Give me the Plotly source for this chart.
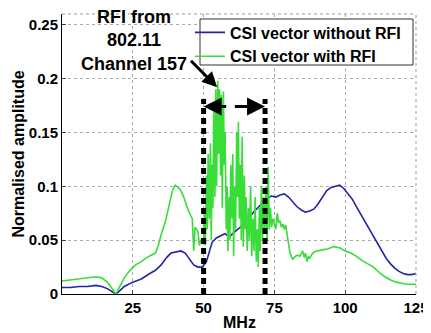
import plotly.graph_objects as go

# ---- data ----
blue_x = [0, 3, 6, 9, 12, 14, 16, 18, 19, 20, 22, 25, 28, 31, 33, 35, 37, 38.5, 40, 42, 43.5, 45, 46.5, 48, 49.5,
          51, 52, 53, 54.5, 56, 57.5, 59, 60.5, 62, 63.5, 65, 66.5, 68, 69.5, 71, 72.5, 74, 75.5, 77, 78.5, 80,
          81.5, 83, 84.5, 86, 87.5, 89, 90.5, 92, 93.5, 95, 96.5, 98, 99.5, 101, 102.5, 104, 105.5, 107, 108.5,
          110, 111.5, 113, 114.5, 116, 117.5, 119, 120.5, 122, 123.5, 125]
blue_y = [0.006, 0.006, 0.007, 0.007, 0.008, 0.007, 0.005, 0.002, 0.0, 0.002, 0.007, 0.011, 0.014, 0.019, 0.022,
          0.027, 0.034, 0.038, 0.039, 0.040, 0.038, 0.032, 0.027, 0.025, 0.025,
          0.030, 0.040, 0.048, 0.052, 0.054, 0.056, 0.053, 0.057, 0.060, 0.063, 0.068, 0.072, 0.077, 0.081, 0.085,
          0.089, 0.091, 0.090, 0.092, 0.093, 0.090, 0.085, 0.081, 0.078, 0.076, 0.077, 0.079, 0.084, 0.090, 0.096,
          0.099, 0.100, 0.101, 0.098, 0.093, 0.088, 0.081, 0.074, 0.067, 0.060, 0.053, 0.046, 0.039, 0.033, 0.028,
          0.024, 0.021, 0.019, 0.018, 0.018, 0.019]

green_x = [0, 3, 6, 9, 12, 14, 16, 18, 19, 20, 22, 24, 26, 28, 30, 31.5, 33, 34, 35, 36.5, 38, 39, 40, 41, 42, 43,
           44, 45, 46, 46.5, 47, 48, 48.5, 49, 50,
           50.3, 50.6, 51, 51.3, 51.6, 52, 52.4, 52.7, 53, 53.3, 53.6, 54, 54.3, 54.6, 55, 55.3, 55.6, 56, 56.3,
           56.6, 57, 57.3, 57.6, 58, 58.3, 58.6, 59, 59.3, 59.6, 60, 60.3, 60.6, 61, 61.3, 61.7, 62, 62.3, 62.6,
           63, 63.3, 63.6, 64, 64.4, 64.7, 65, 65.4, 65.8, 66.2, 66.6, 67, 67.4, 67.8, 68.2, 68.6, 69, 69.3, 69.7,
           70, 70.4, 70.8, 71.2, 71.6, 72, 72.4, 72.8, 73.2, 73.6, 74, 74.5, 75, 75.5, 76, 76.5, 77, 77.5, 78,
           78.5, 79, 79.5, 80, 80.5, 81, 81.5, 82, 83, 84, 85, 85.5, 86, 86.5, 87, 87.5, 88, 89, 90, 92, 94, 96,
           98, 100, 102, 104, 106, 108, 110, 112, 114, 116, 118, 120, 122, 125]
green_y = [0.012, 0.013, 0.014, 0.015, 0.016, 0.015, 0.011, 0.004, 0.0, 0.005, 0.015, 0.022, 0.027, 0.030, 0.034,
           0.036, 0.038, 0.045, 0.055, 0.067, 0.083, 0.096, 0.101, 0.099, 0.096, 0.090, 0.082, 0.075, 0.070, 0.040,
           0.062, 0.058, 0.045, 0.050, 0.052,
           0.080, 0.045, 0.110, 0.060, 0.130, 0.070, 0.140, 0.050, 0.120, 0.080, 0.170, 0.090, 0.190, 0.100, 0.198,
           0.130, 0.190, 0.110, 0.185, 0.080, 0.188, 0.120, 0.150, 0.060, 0.100, 0.040, 0.090, 0.050, 0.120, 0.070,
           0.130, 0.035, 0.100, 0.060, 0.150, 0.090, 0.160, 0.070, 0.120, 0.050, 0.146, 0.044, 0.110, 0.060, 0.090,
           0.040, 0.080, 0.050, 0.100, 0.035, 0.070, 0.040, 0.090, 0.030, 0.060, 0.025, 0.080, 0.040, 0.100, 0.050,
           0.090, 0.060, 0.100, 0.050, 0.118, 0.060, 0.080, 0.062, 0.070, 0.065, 0.060, 0.075, 0.066, 0.068, 0.062,
           0.065, 0.060, 0.064, 0.055, 0.045, 0.038, 0.035, 0.032, 0.034, 0.036, 0.035, 0.040, 0.034, 0.038, 0.030,
           0.035, 0.033, 0.036, 0.039, 0.040, 0.041, 0.042, 0.044, 0.043, 0.040, 0.038, 0.035, 0.031, 0.028, 0.025,
           0.020, 0.016, 0.013, 0.011, 0.010, 0.009, 0.009]

x_ticks = [25, 50, 75, 100, 125]
y_ticks = [0, 0.05, 0.1, 0.15, 0.2, 0.25]
y_labels = ["0", "0.05", "0.1", "0.15", "0.2", "0.25"]
rfi_band = [50, 71.7]
annotation_text = "RFI from<br>802.11<br>Channel 157"
x_title = "MHz"
y_title = "Normalised amplitude"

FONT = "Liberation Sans, Arial, sans-serif"
# page body has an 8px margin; the figure is offset by it
OFF = 8
W, H = 431 - OFF, 333 - OFF
L, T = 62 - OFF, 14 - OFF
R = W - (416 - OFF)
B = H - (294 - OFF)
PW, PH = W - L - R, H - T - B


def px(sx):  # screen x -> paper x
    return (sx - OFF - L) / PW


def py(sy):  # screen y -> paper y
    return (T + PH - (sy - OFF)) / PH


fig = go.Figure()
fig.add_trace(go.Scatter(x=blue_x, y=blue_y, mode="lines", name="CSI vector without RFI",
                         line=dict(color="#2424a8", width=1.6)))
fig.add_trace(go.Scatter(x=green_x, y=green_y, mode="lines", name="CSI vector with RFI",
                         line=dict(color="#38dd38", width=1.6)))

# dashed band limits
for xv in rfi_band:
    fig.add_shape(type="line", x0=xv, x1=xv, y0=0, y1=0.181, xref="x", yref="y",
                  line=dict(color="black", width=5, dash="6px,4px"))

# top / right dotted borders
fig.add_shape(type="line", xref="paper", yref="paper", x0=0, x1=1, y0=1, y1=1,
              line=dict(color="#999999", width=1, dash="dot"))
fig.add_shape(type="line", xref="paper", yref="paper", x0=1, x1=1, y0=0, y1=1,
              line=dict(color="#999999", width=1, dash="dot"))

# legend box
fig.add_shape(type="rect", xref="paper", yref="paper", x0=px(200), x1=px(413), y0=py(65), y1=py(19),
              fillcolor="white", line=dict(color="#333333", width=1), layer="above")

# band arrows
ymid = 0.174
fig.add_annotation(x=rfi_band[0], y=ymid, ax=58.5, ay=ymid, axref="x", ayref="y", xref="x", yref="y",
                   text="", showarrow=True, arrowhead=2, arrowsize=1.2, arrowwidth=3, arrowcolor="black")
fig.add_annotation(x=rfi_band[1], y=ymid, ax=60.5, ay=ymid, axref="x", ayref="y", xref="x", yref="y",
                   text="", showarrow=True, arrowhead=2, arrowsize=1.2, arrowwidth=3, arrowcolor="black")

# pointer arrow
fig.add_annotation(x=54.8, y=0.192, ax=45.0, ay=0.218, axref="x", ayref="y", xref="x", yref="y",
                   text="", showarrow=True, arrowhead=2, arrowsize=1, arrowwidth=3, arrowcolor="black")
# annotation text
fig.add_annotation(x=25.5, y=0.235, xref="x", yref="y", text=annotation_text, showarrow=False,
                   xanchor="center", yanchor="middle",
                   font=dict(family=FONT, size=18, color="black", weight="bold"), align="center")

# axis titles
fig.add_annotation(x=px(17.5), y=0.5, xref="paper", yref="paper", text=y_title, textangle=-90,
                   xanchor="center", yanchor="middle", showarrow=False,
                   font=dict(family=FONT, size=16, color="black", weight="bold"))
fig.add_annotation(x=0.5, y=py(322), xref="paper", yref="paper", text=x_title,
                   xanchor="center", yanchor="middle", showarrow=False,
                   font=dict(family=FONT, size=16, color="black", weight="bold"))

fig.update_layout(
    width=W, height=H,
    margin=dict(l=L, r=R, t=T, b=B),
    paper_bgcolor="white", plot_bgcolor="white",
    font=dict(family=FONT, size=15, color="black", weight="bold"),
    showlegend=True,
    legend=dict(x=px(190), y=py(15.5), xanchor="left", yanchor="top",
                bgcolor="rgba(0,0,0,0)", borderwidth=0, font=dict(size=16, weight="bold"),
                itemwidth=30, tracegroupgap=0),
    xaxis=dict(range=[0, 125], tickvals=x_ticks, showgrid=True, gridcolor="#aaaaaa", griddash="dot",
               showline=True, linecolor="black", linewidth=1, ticks="inside", ticklen=4, zeroline=False,
               automargin=False),
    yaxis=dict(range=[0, 0.26], tickvals=y_ticks, ticktext=y_labels, showgrid=True, gridcolor="#aaaaaa",
               griddash="dot", showline=True, linecolor="black", linewidth=1, ticks="inside", ticklen=4,
               zeroline=False, automargin=False),
)

fig.write_html("out.html")
